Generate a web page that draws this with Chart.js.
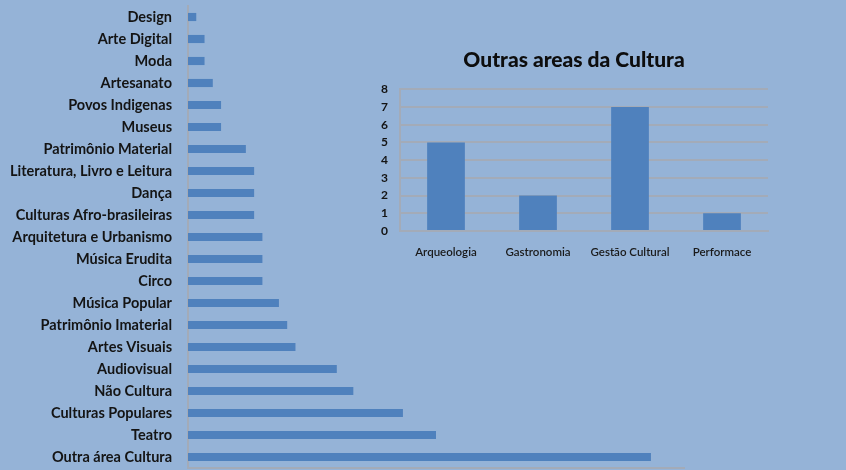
<!DOCTYPE html>
<html lang="pt">
<head>
    <meta charset="UTF-8">
    <title>Áreas da Cultura</title>
    <script src="https://cdn.jsdelivr.net/npm/chart.js"></script>
    <style>
        html, body { margin: 0; padding: 0; }
        body { background: #95b3d7; width: 846px; height: 470px; position: relative; overflow: hidden; }
        #mainChart { position: absolute; left: 0; top: 0; }
        #insetChart { position: absolute; left: 360px; top: 40px; }
    </style>
</head>
<body>
    <canvas id="mainChart" width="846" height="470"></canvas>
    <canvas id="insetChart" width="428" height="240"></canvas>

    <script>
        // main chart data (top to bottom)
        const areas = [
            'Design', 'Arte Digital', 'Moda', 'Artesanato', 'Povos Indigenas', 'Museus',
            'Patrimônio Material', 'Literatura, Livro e Leitura', 'Dança', 'Culturas Afro-brasileiras',
            'Arquitetura e Urbanismo', 'Música Erudita', 'Circo', 'Música Popular',
            'Patrimônio Imaterial', 'Artes Visuais', 'Audiovisual', 'Não Cultura',
            'Culturas Populares', 'Teatro', 'Outra área Cultura'
        ];
        const areaCounts = [1, 2, 2, 3, 4, 4, 7, 8, 8, 8, 9, 9, 9, 11, 12, 13, 18, 20, 26, 30, 56];

        // inset chart data
        const outrasAreas = ['Arqueologia', 'Gastronomia', 'Gestão Cultural', 'Performace'];
        const outrasCounts = [5, 2, 7, 1];
        const outrasTicks = [0, 1, 2, 3, 4, 5, 6, 7, 8];

        const barBlue = '#4f81bd';
        const axisGray = '#a3abb8';

        new Chart(document.getElementById('mainChart'), {
            type: 'bar',
            data: {
                labels: areas,
                datasets: [{
                    data: areaCounts,
                    backgroundColor: barBlue,
                    categoryPercentage: 1,
                    barPercentage: 0.37
                }]
            },
            options: {
                indexAxis: 'y',
                responsive: false,
                animation: false,
                layout: { padding: { top: 6, bottom: 2, right: 162, left: 0 } },
                plugins: { legend: { display: false }, tooltip: { enabled: false } },
                scales: {
                    x: {
                        min: 0,
                        max: 60,
                        ticks: { display: false },
                        grid: { display: false, drawTicks: false },
                        border: { display: true, color: axisGray, width: 2 },
                        afterFit: (scale) => { scale.height = 0; }
                    },
                    y: {
                        ticks: {
                            padding: 16,
                            color: '#141414',
                            font: { family: 'Lato', size: 14.5, weight: 'bold' }
                        },
                        grid: { display: false, drawTicks: false },
                        border: { display: true, color: axisGray, width: 2 },
                        afterFit: (scale) => {
                            scale.width = 188;
                            scale.paddingTop = 0;
                            scale.paddingBottom = 0;
                        }
                    }
                }
            }
        });

        // nudge the inset title so it sits where the original one does
        const titleShift = {
            id: 'titleShift',
            afterLayout(chart) {
                if (chart.titleBlock) chart.titleBlock.left += 20;
            }
        };

        new Chart(document.getElementById('insetChart'), {
            type: 'bar',
            data: {
                labels: outrasAreas,
                datasets: [{
                    data: outrasCounts,
                    backgroundColor: barBlue,
                    categoryPercentage: 1,
                    barPercentage: 0.41
                }]
            },
            plugins: [titleShift],
            options: {
                responsive: false,
                animation: false,
                layout: { padding: { top: 0, bottom: 9, right: 20, left: 0 } },
                plugins: {
                    legend: { display: false },
                    tooltip: { enabled: false },
                    title: {
                        display: true,
                        text: 'Outras areas da Cultura',
                        color: '#0d0d0d',
                        font: { family: 'Lato', size: 21, weight: 900 },
                        padding: { top: 8, bottom: 16 }
                    }
                },
                scales: {
                    x: {
                        ticks: {
                            padding: 14,
                            color: '#1a1a1a',
                            font: { family: 'Lato', size: 11.5, weight: 600 }
                        },
                        grid: { display: false, drawTicks: false },
                        border: { display: true, color: axisGray, width: 2 },
                        afterFit: (scale) => { scale.height = 40; }
                    },
                    y: {
                        min: 0,
                        max: 8,
                        afterBuildTicks: (scale) => {
                            scale.ticks = outrasTicks.map(v => ({ value: v }));
                        },
                        ticks: {
                            padding: 12,
                            color: '#141414',
                            font: { family: 'Lato', size: 12, weight: 'bold' }
                        },
                        grid: { color: axisGray, lineWidth: 2, drawTicks: false },
                        border: { display: true, color: axisGray, width: 2 },
                        afterFit: (scale) => { scale.width = 40; }
                    }
                }
            }
        });
    </script>
</body>
</html>
